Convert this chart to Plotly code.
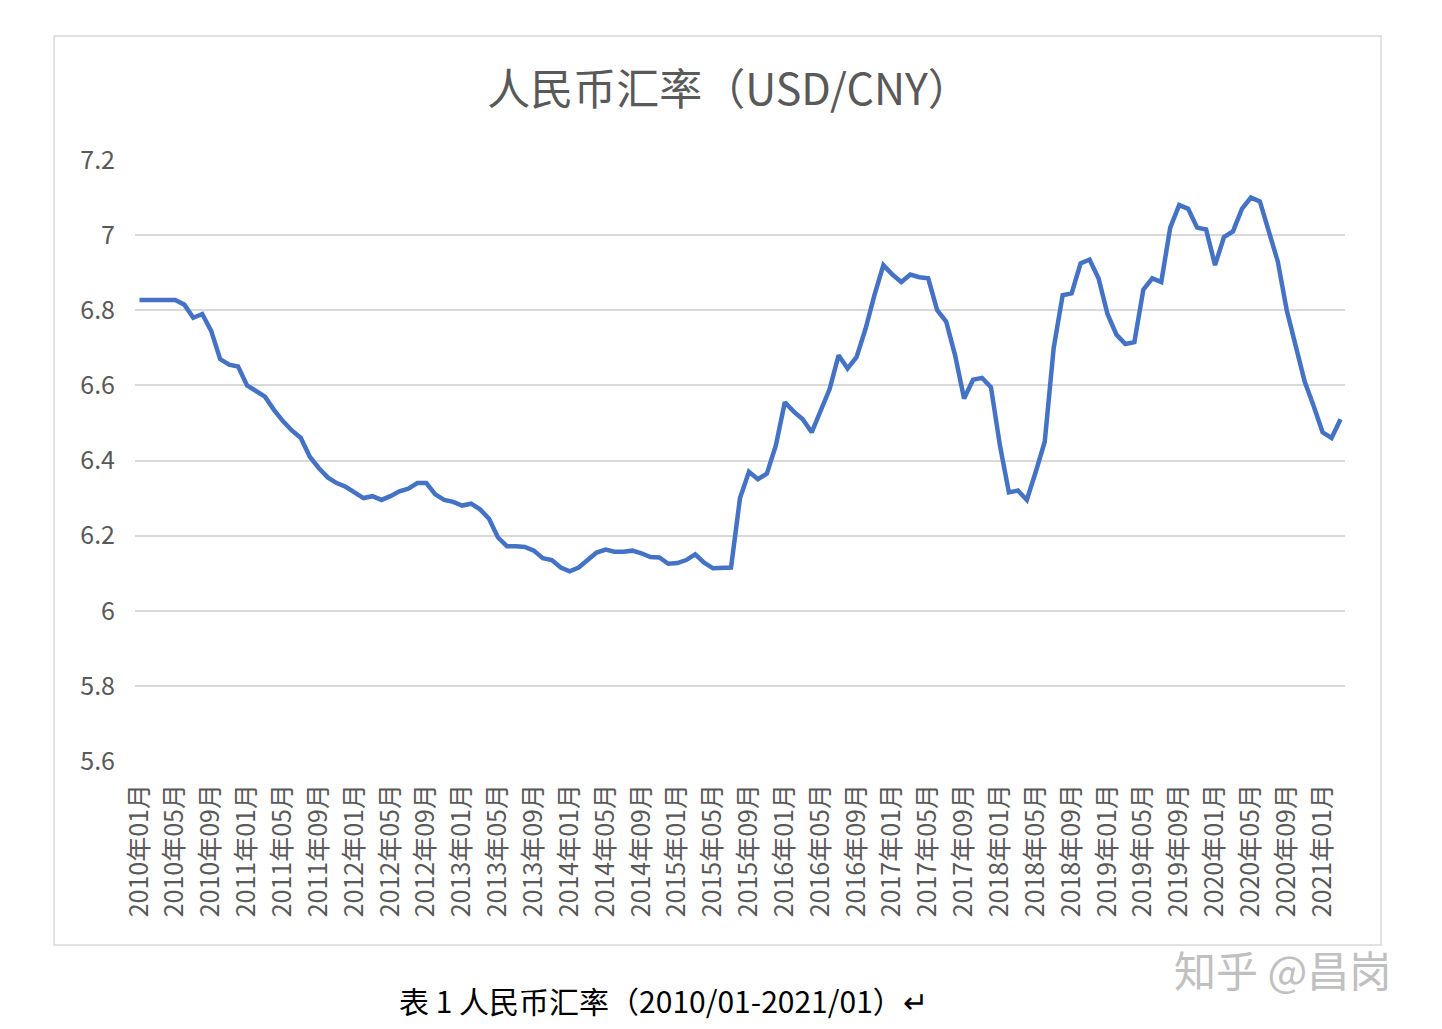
import plotly.graph_objects as go

# monthly labels 2010/01 - 2021/03
months = [f"{2010 + i // 12}年{i % 12 + 1:02d}月" for i in range(135)]
rate = [6.827, 6.827, 6.827, 6.827, 6.827, 6.815, 6.78, 6.79, 6.745, 6.67, 6.655, 6.65,
        6.60, 6.585, 6.57, 6.535, 6.505, 6.48, 6.46, 6.41, 6.38, 6.355, 6.34, 6.33,
        6.315, 6.30, 6.305, 6.295, 6.305, 6.318, 6.325, 6.34, 6.34, 6.31, 6.295, 6.29,
        6.28, 6.285, 6.27, 6.245, 6.195, 6.172, 6.172, 6.17, 6.16, 6.14, 6.135, 6.115,
        6.105, 6.115, 6.135, 6.155, 6.163, 6.157, 6.157, 6.16, 6.153, 6.143, 6.142, 6.125,
        6.127, 6.135, 6.15, 6.128, 6.113, 6.115, 6.115, 6.30, 6.37, 6.35, 6.365, 6.44,
        6.555, 6.53, 6.51, 6.475, 6.535, 6.59, 6.68, 6.645, 6.675, 6.75, 6.84, 6.92,
        6.895, 6.875, 6.895, 6.888, 6.885, 6.80, 6.77, 6.68, 6.565, 6.615, 6.62, 6.595,
        6.44, 6.315, 6.32, 6.295, 6.37, 6.45, 6.70, 6.84, 6.845, 6.925, 6.935, 6.885,
        6.79, 6.735, 6.71, 6.715, 6.855, 6.885, 6.875, 7.02, 7.08, 7.07, 7.02, 7.015,
        6.92, 6.995, 7.01, 7.07, 7.10, 7.09, 7.01, 6.93, 6.80, 6.71, 6.61, 6.545,
        6.475, 6.46, 6.51]
tick_labels = months[::4]

font = "Noto Sans CJK SC"
grey = "#595959"

fig = go.Figure(go.Scatter(x=months, y=rate, mode="lines",
                           line=dict(color="#4472c4", width=4.5)))

fig.update_layout(
    width=1442, height=1029,
    margin=dict(l=127, r=105, t=152, b=276),
    plot_bgcolor="white", paper_bgcolor="white",
    showlegend=False,
    font=dict(family=font, color=grey, size=21),
    title=dict(text="人民币汇率（USD/CNY）", x=0.5, xanchor="center", y=0.92, yanchor="middle",
               font=dict(size=43, color=grey, family=font)),
    xaxis=dict(type="category", range=[-0.5, 134.5], tickmode="array", tickvals=tick_labels,
               tickangle=-90, showgrid=False, showline=False, ticks="outside", ticklen=12,
               tickcolor="rgba(0,0,0,0)", tickfont=dict(size=25)),
    yaxis=dict(range=[5.6, 7.2], dtick=0.2, gridcolor="#d9d9d9", gridwidth=1.5,
               zeroline=False, showline=False, ticks="outside", ticklen=14,
               tickcolor="rgba(0,0,0,0)", tickformat="~g", tickfont=dict(size=25)),
    shapes=[dict(type="rect", xref="paper", yref="paper", x0=-0.0669, x1=1.0298, y0=-0.306, y1=1.2063,
                 line=dict(color="#d9d9d9", width=1.5))],
    annotations=[
        dict(text="表 1 人民币汇率（2010/01-2021/01）↵", xref="paper", yref="paper",
             x=0.437, y=-0.398, yanchor="middle", showarrow=False,
             font=dict(size=30, color="black", family=font)),
        dict(text="知乎 @昌岗", xref="paper", yref="paper", x=1.04, y=-0.345, yanchor="middle",
             showarrow=False, font=dict(size=42, color="#c0c0c0", family=font)),
    ],
)

fig.write_html("out.html")
